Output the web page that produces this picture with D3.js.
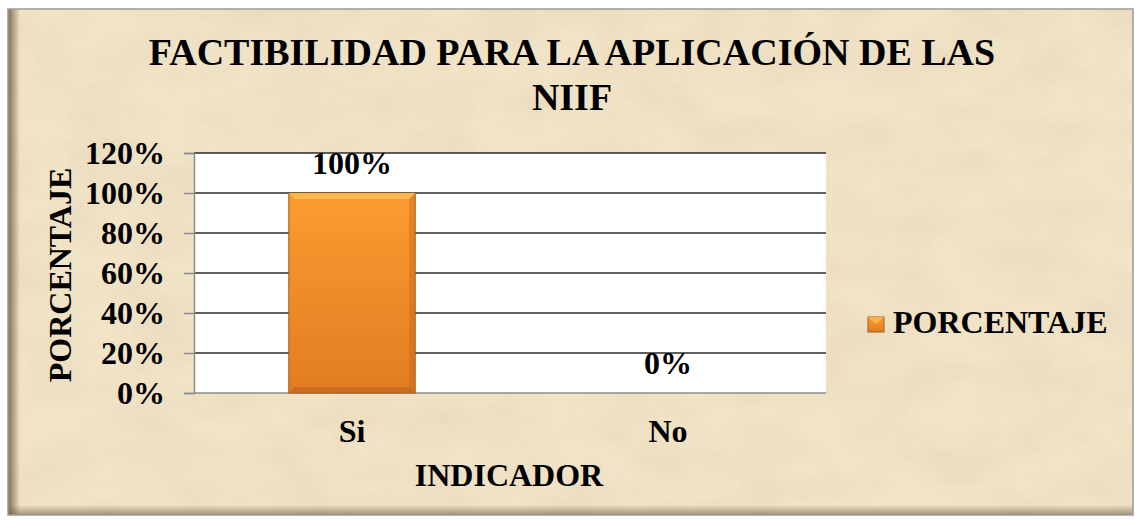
<!DOCTYPE html>
<html>
<head>
<meta charset="utf-8">
<script src="https://cdn.jsdelivr.net/npm/d3@7"></script>
<style>
  html, body { margin: 0; padding: 0; background: #ffffff; }
  svg { display: block; }
  text { font-family: "Liberation Serif", "Times New Roman", serif; font-weight: bold; fill: #000; }
</style>
</head>
<body>
<svg id="chart"></svg>
<script>
// datos
let categorias = ['Si', 'No'];
let porcentajes = [1.0, 0.0];
let ticks = [0, 0.2, 0.4, 0.6, 0.8, 1.0, 1.2];
let serie = 'PORCENTAJE';

let width = 1135;
let height = 521;

// area de trazado
let plot = { left: 194, right: 826, top: 153, bottom: 393 };

let svg = d3.select('#chart')
    .attr('width', width)
    .attr('height', height);

let defs = svg.append('defs');

// textura de pergamino
let paper = defs.append('filter').attr('id', 'paper')
    .attr('x', 0).attr('y', 0).attr('width', '100%').attr('height', '100%');
paper.append('feTurbulence')
    .attr('type', 'fractalNoise')
    .attr('baseFrequency', '0.015 0.025')
    .attr('numOctaves', 4)
    .attr('seed', 7)
    .attr('result', 'noise');
paper.append('feColorMatrix')
    .attr('in', 'noise')
    .attr('type', 'matrix')
    .attr('values', '0 0 0 0 0.78  0 0 0 0 0.66  0 0 0 0 0.48  0 0 0 -1.0 0.62')
    .attr('result', 'tint');
paper.append('feComposite').attr('in', 'tint').attr('in2', 'SourceGraphic').attr('operator', 'in').attr('result', 't2');
paper.append('feMerge').selectAll('feMergeNode')
    .data(['SourceGraphic', 't2'])
    .enter().append('feMergeNode').attr('in', d => d);

// sombra lateral
let shade = defs.append('linearGradient').attr('id', 'shadeL');
shade.append('stop').attr('offset', 0).attr('stop-color', '#6b5a40').attr('stop-opacity', 0.85);
shade.append('stop').attr('offset', 1).attr('stop-color', '#6b5a40').attr('stop-opacity', 0);

let shadeB = defs.append('linearGradient').attr('id', 'shadeB')
    .attr('x1', 0).attr('y1', 1).attr('x2', 0).attr('y2', 0);
shadeB.append('stop').attr('offset', 0).attr('stop-color', '#6b5a40').attr('stop-opacity', 0.6);
shadeB.append('stop').attr('offset', 1).attr('stop-color', '#6b5a40').attr('stop-opacity', 0);

// degradado de la barra
let barGrad = defs.append('linearGradient').attr('id', 'barGrad')
    .attr('x1', 0).attr('y1', 0).attr('x2', 0).attr('y2', 1);
barGrad.append('stop').attr('offset', 0).attr('stop-color', '#fb9c30');
barGrad.append('stop').attr('offset', 1).attr('stop-color', '#e27c22');

// marco
svg.append('rect')
    .attr('x', 8).attr('y', 9)
    .attr('width', 1125).attr('height', 506)
    .attr('fill', '#f1e3c6')
    .attr('filter', 'url(#paper)');
svg.append('rect')
    .attr('x', 8).attr('y', 9).attr('width', 12).attr('height', 506)
    .attr('fill', 'url(#shadeL)');
svg.append('rect')
    .attr('x', 8).attr('y', 505).attr('width', 1125).attr('height', 10)
    .attr('fill', 'url(#shadeB)');
svg.append('rect')
    .attr('x', 8).attr('y', 9)
    .attr('width', 1125).attr('height', 506)
    .attr('fill', 'none')
    .attr('stroke', '#9a9a9a')
    .attr('stroke-width', 1.5);

// escalas
let x = d3.scaleBand()
    .domain(categorias)
    .range([plot.left, plot.right])
    .padding(0);

let y = d3.scaleLinear()
    .domain([0, 1.2])
    .range([plot.bottom, plot.top]);

let fmt = d3.format('.0%');

// fondo blanco del area
svg.append('rect')
    .attr('x', plot.left).attr('y', plot.top)
    .attr('width', plot.right - plot.left)
    .attr('height', plot.bottom - plot.top)
    .attr('fill', '#ffffff');

// lineas de cuadricula
svg.append('g')
    .selectAll('line')
    .data(ticks.filter(t => t > 0))
    .enter()
    .append('line')
    .attr('x1', plot.left).attr('x2', plot.right)
    .attr('y1', d => y(d)).attr('y2', d => y(d))
    .attr('stroke', '#2a2a2a')
    .attr('stroke-width', 1.5);

// eje y
let yAxis = svg.append('g')
    .attr('transform', 'translate(' + plot.left + ',0)')
    .call(d3.axisLeft(y).tickValues(ticks).tickFormat(fmt).tickSize(10).tickPadding(19));
yAxis.select('.domain').attr('stroke', '#8c8c8c').attr('stroke-width', 1.5);
yAxis.selectAll('.tick line').attr('stroke', '#8c8c8c').attr('stroke-width', 1.5);
yAxis.selectAll('.tick text')
    .attr('font-size', 32)
    .attr('font-family', '"Liberation Serif", serif')
    .attr('font-weight', 'bold')
    .attr('fill', '#000')
    .attr('dy', '0.34em');

// eje x (linea base)
svg.append('line')
    .attr('x1', plot.left).attr('x2', plot.right)
    .attr('y1', plot.bottom).attr('y2', plot.bottom)
    .attr('stroke', '#8c8c8c')
    .attr('stroke-width', 1.5);

svg.append('g')
    .selectAll('text')
    .data(categorias)
    .enter()
    .append('text')
    .attr('x', d => x(d) + x.bandwidth() / 2)
    .attr('y', 442)
    .attr('text-anchor', 'middle')
    .attr('font-size', 32)
    .text(d => d);

// barras
let barW = x.bandwidth() * 0.4;
let bars = svg.append('g')
    .selectAll('g')
    .data(porcentajes.map((v, i) => ({ cat: categorias[i], v: v })))
    .enter()
    .append('g');

bars.filter(d => d.v > 0).append('rect')
    .attr('x', d => x(d.cat) + (x.bandwidth() - barW) / 2)
    .attr('y', d => y(d.v))
    .attr('width', barW)
    .attr('height', d => y(0) - y(d.v))
    .attr('fill', 'url(#barGrad)')
    .attr('stroke', '#a85a14')
    .attr('stroke-width', 1);

// bisel superior e inferior
bars.filter(d => d.v > 0).append('path')
    .attr('d', d => {
        let x0 = x(d.cat) + (x.bandwidth() - barW) / 2;
        let y0 = y(d.v);
        return 'M' + x0 + ',' + y0 + 'L' + (x0 + barW) + ',' + y0 +
            'L' + (x0 + barW - 6) + ',' + (y0 + 6) + 'L' + (x0 + 6) + ',' + (y0 + 6) + 'Z';
    })
    .attr('fill', '#ffc15a')
    .attr('opacity', 0.8);
bars.filter(d => d.v > 0).append('path')
    .attr('d', d => {
        let x0 = x(d.cat) + (x.bandwidth() - barW) / 2;
        let y1 = y(0);
        return 'M' + x0 + ',' + y1 + 'L' + (x0 + barW) + ',' + y1 +
            'L' + (x0 + barW - 6) + ',' + (y1 - 6) + 'L' + (x0 + 6) + ',' + (y1 - 6) + 'Z';
    })
    .attr('fill', '#b8621a')
    .attr('opacity', 0.6);
bars.filter(d => d.v > 0).append('path')
    .attr('d', d => {
        let x0 = x(d.cat) + (x.bandwidth() - barW) / 2 + barW;
        let y0 = y(d.v), y1 = y(0);
        return 'M' + x0 + ',' + y0 + 'L' + x0 + ',' + y1 +
            'L' + (x0 - 6) + ',' + (y1 - 6) + 'L' + (x0 - 6) + ',' + (y0 + 6) + 'Z';
    })
    .attr('fill', '#c4681c')
    .attr('opacity', 0.45);

// etiquetas de datos
bars.append('text')
    .attr('x', d => x(d.cat) + x.bandwidth() / 2)
    .attr('y', d => y(d.v) - 19)
    .attr('text-anchor', 'middle')
    .attr('font-size', 32)
    .text(d => fmt(d.v));

// titulo
svg.append('text')
    .attr('x', 572).attr('y', 65)
    .attr('text-anchor', 'middle')
    .attr('font-size', 38)
    .text('FACTIBILIDAD PARA LA APLICACIÓN DE LAS');
svg.append('text')
    .attr('x', 572).attr('y', 110)
    .attr('text-anchor', 'middle')
    .attr('font-size', 38)
    .text('NIIF');

// titulos de ejes
svg.append('text')
    .attr('transform', 'translate(71,275) rotate(-90)')
    .attr('text-anchor', 'middle')
    .attr('font-size', 32)
    .text('PORCENTAJE');
svg.append('text')
    .attr('x', 509).attr('y', 486)
    .attr('text-anchor', 'middle')
    .attr('font-size', 32)
    .text('INDICADOR');

// leyenda
let legend = svg.append('g').attr('transform', 'translate(868,317)');
legend.append('rect')
    .attr('width', 16).attr('height', 15)
    .attr('fill', 'url(#barGrad)')
    .attr('stroke', '#a85a14')
    .attr('stroke-width', 1);
legend.append('path')
    .attr('d', 'M0,0L16,0L8,7Z')
    .attr('fill', '#ffc15a')
    .attr('opacity', 0.7);
legend.append('text')
    .attr('x', 25).attr('y', 16)
    .attr('font-size', 32)
    .text(serie);
</script>
</body>
</html>
